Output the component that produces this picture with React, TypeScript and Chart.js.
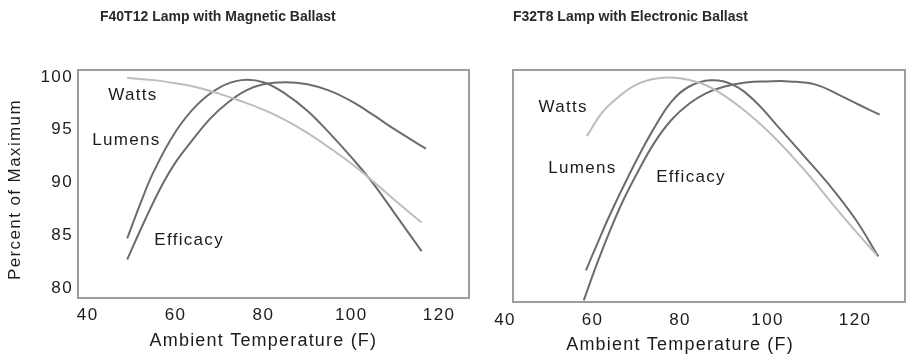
import React, { useEffect, useRef } from 'react';
import { Chart, registerables } from 'chart.js';

Chart.register(...registerables);

// ---------- data ----------
const xTickValues = [40, 60, 80, 100, 120];
const yTickValues = [80, 85, 90, 95, 100];
const seriesNames = ['Watts', 'Lumens', 'Efficacy'];

const leftTitle = 'F40T12 Lamp with Magnetic Ballast';
const rightTitle = 'F32T8 Lamp with Electronic Ballast';
const xAxisTitle = 'Ambient Temperature (F)';
const yAxisTitle = 'Percent of Maximum';

// Left panel: F40T12 + magnetic ballast
const leftWattsTemp = [49, 55, 60, 65, 70, 75, 80, 85, 90, 95, 100, 105, 110, 116];
const leftWattsPct = [99.9, 99.7, 99.4, 99.0, 98.4, 97.7, 96.9, 95.9, 94.7, 93.3, 91.8, 90.1, 88.3, 86.2];
const leftLumensTemp = [49, 52, 55, 60, 65, 70, 75, 80, 85, 90, 95, 100, 105, 110, 116];
const leftLumensPct = [84.7, 88.0, 91.0, 94.8, 97.4, 99.0, 99.7, 99.5, 98.4, 96.8, 94.7, 92.4, 89.9, 87.0, 83.5];
const leftEfficacyTemp = [49, 53, 57, 60, 64, 68, 72, 76, 80, 85, 90, 95, 100, 105, 110, 117];
const leftEfficacyPct = [82.7, 86.4, 89.8, 91.9, 94.1, 96.1, 97.6, 98.7, 99.3, 99.5, 99.3, 98.7, 97.7, 96.4, 95.0, 93.2];

// Right panel: F32T8 + electronic ballast
const rightWattsTemp = [58.7, 62, 65.5, 70, 75, 80, 85, 90, 95, 100, 105, 110, 115, 120, 125];
const rightWattsPct = [94.5, 96.6, 98.0, 99.3, 99.9, 99.9, 99.4, 98.3, 96.8, 95.0, 92.9, 90.6, 88.1, 85.7, 83.4];
const rightLumensTemp = [58.5, 61, 64, 68, 71, 74, 78, 82, 87, 92, 97, 103, 108, 114, 120, 125.3];
const rightLumensPct = [82.0, 84.4, 87.2, 90.6, 93.0, 95.2, 97.7, 99.1, 99.7, 99.3, 97.8, 95.1, 92.8, 90.0, 86.8, 83.3];
const rightEfficacyTemp = [58, 61, 64, 67, 70, 74, 78, 82, 86, 90, 95, 100, 105, 111, 117, 121, 125.6];
const rightEfficacyPct = [79.2, 82.6, 85.7, 88.5, 90.9, 93.8, 96.0, 97.5, 98.5, 99.1, 99.5, 99.6, 99.6, 99.3, 98.2, 97.4, 96.5];

// in-plot series labels (temperature, percent)
const leftLabelTemp = [50.3, 48.8, 63.1];
const leftLabelPct = [98.3, 94.0, 84.5];
const rightLabelTemp = [53.3, 57.7, 82.5];
const rightLabelPct = [97.2, 91.5, 90.65];

const axisTitleCenterTemp = 80;

// ---------- styling ----------
const FONT = '"Liberation Sans", Arial, Helvetica, sans-serif';
const WATTS_COLOR = '#bdbdbd';
const DARK_COLOR = '#6c6c6c';
const TEXT_COLOR = '#1c1c1c';
const BOX_COLOR = '#9d9d9d';

type Panel = {
  title: string;
  titleOffset: number;
  showY: boolean;
  width: number;
  xMin: number;
  xMax: number;
  yAxisWidth: number;
  xAxisHeight: number;
  padRight: number;
  tickPad: number;
  wattsT: number[]; wattsP: number[];
  lumT: number[]; lumP: number[];
  effT: number[]; effP: number[];
  labT: number[]; labP: number[];
};

const spacingPlugin = {
  id: 'spacing',
  beforeUpdate(chart: any) { chart.ctx.letterSpacing = '1.4px'; },
  beforeDraw(chart: any) { chart.ctx.letterSpacing = '1.4px'; },
};

function decorPlugin(p: Panel) {
  return {
    id: 'decor',
    beforeDatasetsDraw(chart: any) {
      const ctx = chart.ctx;
      const a = chart.chartArea;
      ctx.save();
      ctx.strokeStyle = BOX_COLOR;
      ctx.lineWidth = 2;
      ctx.strokeRect(a.left, a.top, a.right - a.left, a.bottom - a.top);
      ctx.restore();
    },
    afterDraw(chart: any) {
      const ctx = chart.ctx;
      const a = chart.chartArea;
      const xs = chart.scales.x;
      const ys = chart.scales.y;
      ctx.save();
      ctx.fillStyle = TEXT_COLOR;
      // series labels
      ctx.letterSpacing = '1.3px';
      ctx.font = `17px ${FONT}`;
      ctx.textAlign = 'center';
      ctx.textBaseline = 'middle';
      seriesNames.forEach((n, i) => {
        ctx.fillText(n, xs.getPixelForValue(p.labT[i]), ys.getPixelForValue(p.labP[i]));
      });
      // panel title
      ctx.letterSpacing = '0px';
      ctx.font = `bold 14px ${FONT}`;
      ctx.fillStyle = '#2a2a2a';
      ctx.textAlign = 'left';
      ctx.fillText(p.title, a.left + p.titleOffset, 17);
      ctx.fillStyle = TEXT_COLOR;
      // x axis title
      ctx.letterSpacing = '1.2px';
      ctx.font = `18px ${FONT}`;
      ctx.textAlign = 'center';
      ctx.fillText(xAxisTitle, xs.getPixelForValue(axisTitleCenterTemp), a.bottom + 43);
      // y axis title
      if (p.showY) {
        ctx.translate(15.5, 189.5);
        ctx.rotate(-Math.PI / 2);
        ctx.letterSpacing = '1.4px';
        ctx.font = `17px ${FONT}`;
        ctx.fillText(yAxisTitle, 0, 0);
      }
      ctx.restore();
    },
  };
}

function makeConfig(p: Panel): any {
  const pts = (xs: number[], ys: number[]) => xs.map((x, i) => ({ x, y: ys[i] }));
  const line = (label: string, data: any[], color: string) => ({
    label,
    data,
    borderColor: color,
    borderWidth: 2,
    pointRadius: 0,
    fill: false,
    tension: 0.4,
  });
  return {
    type: 'line',
    data: {
      datasets: [
        line('Watts', pts(p.wattsT, p.wattsP), WATTS_COLOR),
        line('Lumens', pts(p.lumT, p.lumP), DARK_COLOR),
        line('Efficacy', pts(p.effT, p.effP), DARK_COLOR),
      ],
    },
    options: {
      responsive: false,
      animation: false,
      devicePixelRatio: 1,
      layout: { padding: { top: 70, right: p.padRight, left: 0, bottom: 0 } },
      plugins: {
        legend: { display: false },
        title: { display: false },
        tooltip: { enabled: false },
      },
      scales: {
        x: {
          type: 'linear',
          min: p.xMin,
          max: p.xMax,
          grid: { display: false, drawTicks: false },
          border: { display: false },
          afterBuildTicks: (s: any) => { s.ticks = xTickValues.map((v) => ({ value: v })); },
          afterFit: (s: any) => { s.height = p.xAxisHeight; },
          ticks: {
            padding: p.tickPad,
            color: TEXT_COLOR,
            font: { family: FONT, size: 17 },
            maxRotation: 0,
            autoSkip: false,
            callback: (v: any) => String(v),
          },
        },
        y: {
          type: 'linear',
          min: 79.05,
          max: 100.66,
          grid: { display: false, drawTicks: false },
          border: { display: false },
          afterBuildTicks: (s: any) => { s.ticks = yTickValues.map((v) => ({ value: v })); },
          afterFit: (s: any) => { s.width = p.yAxisWidth; },
          ticks: {
            display: p.showY,
            padding: 5,
            color: TEXT_COLOR,
            font: { family: FONT, size: 17 },
            autoSkip: false,
            callback: (v: any) => String(v),
          },
        },
      },
    },
    plugins: [spacingPlugin, decorPlugin(p)],
  };
}

const leftPanel: Panel = {
  title: leftTitle, titleOffset: 22, showY: true, width: 480,
  xMin: 37.8, xMax: 126.8, yAxisWidth: 78, xAxisHeight: 57, padRight: 11, tickPad: 7,
  wattsT: leftWattsTemp, wattsP: leftWattsPct,
  lumT: leftLumensTemp, lumP: leftLumensPct,
  effT: leftEfficacyTemp, effP: leftEfficacyPct,
  labT: leftLabelTemp, labP: leftLabelPct,
};

const rightPanel: Panel = {
  title: rightTitle, titleOffset: 0, showY: false, width: 428,
  xMin: 41.83, xMax: 131.4, yAxisWidth: 33, xAxisHeight: 53, padRight: 3, tickPad: 8,
  wattsT: rightWattsTemp, wattsP: rightWattsPct,
  lumT: rightLumensTemp, lumP: rightLumensPct,
  effT: rightEfficacyTemp, effP: rightEfficacyPct,
  labT: rightLabelTemp, labP: rightLabelPct,
};

function PanelChart({ panel, left }: { panel: Panel; left: number }) {
  const ref = useRef<HTMLCanvasElement | null>(null);
  useEffect(() => {
    if (!ref.current) return;
    const chart = new Chart(ref.current, makeConfig(panel));
    return () => chart.destroy();
  }, [panel]);
  return (
    <canvas
      ref={ref}
      width={panel.width}
      height={355}
      style={{ position: 'absolute', left, top: 0, width: panel.width, height: 355 }}
    />
  );
}

export default function App() {
  return (
    <div style={{ position: 'fixed', left: 0, top: 0, width: 908, height: 355, background: '#ffffff', overflow: 'hidden' }}>
      <PanelChart panel={leftPanel} left={0} />
      <PanelChart panel={rightPanel} left={480} />
    </div>
  );
}
